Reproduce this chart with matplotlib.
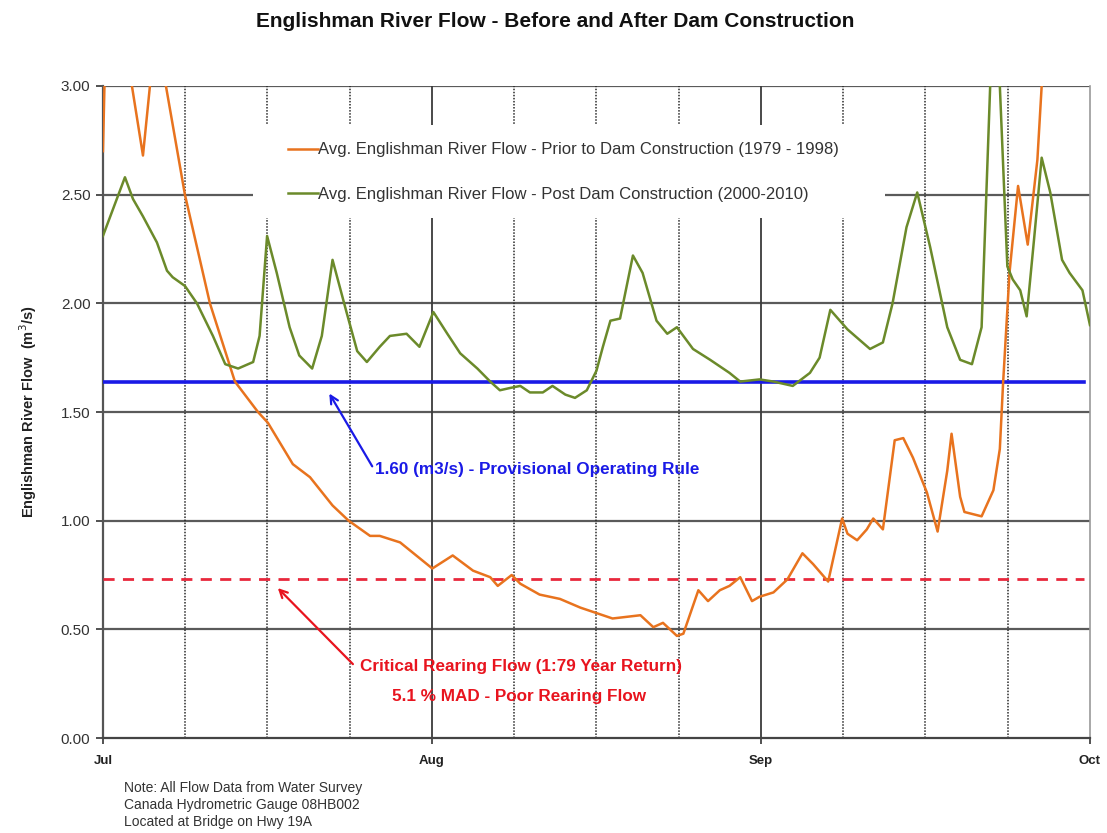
import matplotlib
matplotlib.use("Agg")
import matplotlib.pyplot as plt
from matplotlib.patches import Rectangle

plt.rcParams['font.family'] = ['Liberation Sans', 'DejaVu Sans']

# Day offsets from July 1 (0 = Jul 1, 92 = Oct 1)
prior_days = [0.0, 0.28, 1.4, 2.7, 3.73, 4.38, 5.1, 5.87, 7.64, 9.97, 12.3, 14.45, 15.38,
              17.7, 19.3, 21.4, 22.9, 24.9, 25.8, 27.7, 30.7, 32.6, 34.5, 36.1, 36.8, 38.1,
              38.9, 40.7, 42.6, 44.5, 46.0, 47.5, 50.1, 51.3, 52.2, 53.5, 54.1, 55.5, 56.4,
              57.5, 58.4, 59.4, 60.5, 61.2, 62.5, 63.8, 65.2, 66.2, 67.6, 68.9, 69.4, 70.3,
              71.2, 71.8, 72.7, 73.8, 74.6, 75.5, 76.8, 77.8, 78.7, 79.1, 79.9, 80.3, 81.9,
              83.0, 83.6, 83.9, 84.5, 85.3, 86.2, 87.1, 87.5, 88.5, 90.0, 92.0]
prior_flow = [2.70, 3.30, 3.60, 3.00, 2.68, 3.00, 3.30, 3.00, 2.50, 2.00, 1.64, 1.50, 1.45,
              1.26, 1.20, 1.07, 1.00, 0.93, 0.93, 0.90, 0.78, 0.84, 0.77, 0.74, 0.70, 0.75,
              0.71, 0.66, 0.64, 0.60, 0.575, 0.55, 0.565, 0.51, 0.53, 0.47, 0.48, 0.68, 0.63,
              0.68, 0.70, 0.74, 0.63, 0.65, 0.67, 0.73, 0.85, 0.80, 0.72, 1.01, 0.94, 0.91,
              0.96, 1.01, 0.96, 1.37, 1.38, 1.29, 1.13, 0.95, 1.23, 1.40, 1.11, 1.04, 1.02,
              1.14, 1.33, 1.63, 2.14, 2.54, 2.27, 2.66, 3.00, 3.50, 3.80, 3.60]

post_days = [0.0, 2.05, 2.8, 3.73, 5.03, 5.97, 6.5, 7.64, 8.76, 10.25, 11.4, 12.6, 14.0, 14.6,
             15.3, 16.2, 17.4, 18.3, 19.5, 20.4, 21.4, 22.7, 23.7, 24.6, 25.8, 26.75, 28.3,
             29.5, 30.8, 32.1, 33.3, 34.9, 36.1, 37.0, 37.9, 38.9, 39.8, 41.0, 41.9, 43.1,
             44.0, 45.1, 46.0, 46.6, 47.3, 48.2, 49.4, 50.3, 51.6, 52.6, 53.5, 55.0, 56.6,
             58.4, 59.4, 61.2, 62.5, 64.3, 65.9, 66.8, 67.8, 69.4, 71.5, 72.7, 73.6, 74.9,
             75.9, 77.1, 78.7, 79.9, 81.0, 81.9, 82.7, 83.2, 83.6, 84.3, 84.8, 85.5, 86.1,
             86.8, 87.5, 88.3, 89.4, 90.1, 91.3, 92.0]
post_flow = [2.31, 2.58, 2.48, 2.40, 2.28, 2.15, 2.12, 2.08, 2.00, 1.85, 1.72, 1.70, 1.73, 1.85,
             2.31, 2.14, 1.89, 1.76, 1.70, 1.85, 2.20, 1.96, 1.78, 1.73, 1.80, 1.85, 1.86,
             1.80, 1.96, 1.86, 1.77, 1.70, 1.64, 1.60, 1.61, 1.62, 1.59, 1.59, 1.62, 1.58,
             1.565, 1.60, 1.69, 1.80, 1.92, 1.93, 2.22, 2.14, 1.92, 1.86, 1.89, 1.79, 1.74,
             1.68, 1.64, 1.65, 1.64, 1.62, 1.68, 1.75, 1.97, 1.88, 1.79, 1.82, 2.00, 2.35,
             2.51, 2.26, 1.89, 1.74, 1.72, 1.89, 3.00, 3.40, 3.00, 2.17, 2.11, 2.06, 1.94,
             2.30, 2.67, 2.51, 2.20, 2.14, 2.06, 1.90]

operating_rule = 1.64
critical_flow = 0.73
month_labels = ['Jul', 'Aug', 'Sep', 'Oct']
y_ticks = [0.0, 0.5, 1.0, 1.5, 2.0, 2.5, 3.0]

fig = plt.figure(figsize=(11.07, 8.33), dpi=100)
ax = fig.add_axes([0.0930, 0.1140, 0.8916, 0.7828])
total = 92.0
ax.set_xlim(0, total)
ax.set_ylim(0, 3.0)

# grid
for y in y_ticks[1:]:
    ax.axhline(y, color='#5a5a5a', lw=1.6, zorder=1)
for k in range(1, 12):
    xv = total * k / 12
    if k % 4 == 0:
        ax.axvline(xv, color='#3a3a3a', lw=1.3, zorder=1)
    else:
        ax.axvline(xv, color='#2a2a2a', lw=1.1, ls=(0, (1, 1)), zorder=1)

# white legend area covering the grid
ax.add_patch(Rectangle((0.152, 0.798), 0.640, 0.142, transform=ax.transAxes,
                       facecolor='white', edgecolor='none', zorder=2))

ax.plot([0, 91.4], [operating_rule]*2, color='#1a1ae6', lw=2.6, zorder=3)
ax.plot([0, 91.4], [critical_flow]*2, color='#e8283c', lw=2.0, ls=(0, (4, 3)), zorder=3)

l1, = ax.plot(prior_days, prior_flow, color='#e8731e', lw=1.8, zorder=4,
              label='Avg. Englishman River Flow - Prior to Dam Construction (1979 - 1998)')
l2, = ax.plot(post_days, post_flow, color='#6b8a2a', lw=1.8, zorder=4,
              label='Avg. Englishman River Flow - Post Dam Construction (2000-2010)')

leg = ax.legend(handles=[l1, l2], loc='center left', bbox_to_anchor=(0.187, 0.868),
                frameon=False, fontsize=12, handlelength=1.8, handletextpad=0.0,
                labelspacing=1.75, borderpad=0, borderaxespad=0)
leg.set_zorder(5)
for t in leg.get_texts():
    t.set_color('#333333')

ax.set_yticks(y_ticks)
ax.set_yticklabels(['%.2f' % v for v in y_ticks], fontsize=11, color='#333333')
ax.set_xticks([0, total/3, 2*total/3, total])
ax.set_xticklabels(month_labels, fontsize=9.5, fontweight='bold', color='#222222')
ax.tick_params(axis='y', length=5, width=1.2, color='#333333', pad=4)
ax.tick_params(axis='x', length=4, width=1.2, color='#333333', pad=8)

ax.spines['right'].set_color('#9a9a9a')
ax.spines['right'].set_linewidth(1.2)
ax.spines['left'].set_color('#555555')
ax.spines['left'].set_linewidth(1.6)
ax.spines['bottom'].set_color('#444444')
ax.spines['bottom'].set_linewidth(1.6)
ax.spines['top'].set_visible(False)

ax.set_ylabel('Englishman River Flow  (m$^3$/s)', fontsize=10.5, fontweight='bold',
              color='#222222', labelpad=16)

# annotations
ax.text(25.4, 1.235, '1.60 (m3/s) - Provisional Operating Rule', fontsize=12.3,
        fontweight='bold', color='#1a1ae6', ha='left', va='center', zorder=6)
ax.annotate('', xy=(21.1, 1.585), xytext=(25.1, 1.25),
            arrowprops=dict(arrowstyle='->', color='#1a1ae6', lw=1.6,
                            shrinkA=0, shrinkB=0, mutation_scale=14), zorder=6)
ax.text(24.0, 0.33, 'Critical Rearing Flow (1:79 Year Return)', fontsize=12.3,
        fontweight='bold', color='#e8141e', ha='left', va='center', zorder=6)
ax.annotate('', xy=(16.3, 0.69), xytext=(23.3, 0.34),
            arrowprops=dict(arrowstyle='->', color='#e8141e', lw=1.6,
                            shrinkA=0, shrinkB=0, mutation_scale=14), zorder=6)
ax.text(38.8, 0.19, '5.1 % MAD - Poor Rearing Flow', fontsize=12.3,
        fontweight='bold', color='#e8141e', ha='center', va='center', zorder=6)

fig.text(0.5015, 0.9745, 'Englishman River Flow - Before and After Dam Construction',
         fontsize=15, fontweight='bold', ha='center', va='center', color='#111111')

fig.text(0.112, 0.062, 'Note: All Flow Data from Water Survey\nCanada Hydrometric Gauge 08HB002\nLocated at Bridge on Hwy 19A',
         fontsize=10, ha='left', va='top', color='#333333', linespacing=1.25)

fig.savefig('out.png', dpi=100)
